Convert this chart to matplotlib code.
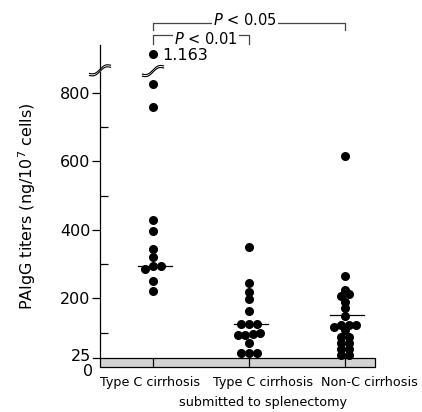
import matplotlib
matplotlib.use('Agg')
import matplotlib.pyplot as plt
from matplotlib.patches import Rectangle
import numpy as np

# PAIgG titers (ng/10^7 cells)
groups = ['Type C cirrhosis', 'Type C cirrhosis', 'Non-C cirrhosis']
sub_label = 'submitted to splenectomy'
typeC = [1163, 825, 758, 428, 398, 343, 320, 294, 294, 285, 252, 221]
typeC_splen = [351, 244, 219, 199, 164, 124, 124, 124, 98, 95, 93, 93, 70, 40, 40, 39]
nonC = [615, 266, 224, 212, 208, 190, 171, 148, 122, 122, 122, 116, 107, 88, 88, 69, 69, 51, 51, 34, 34]
medians = [294, 124, 150]
yticks = [200, 400, 600, 800]
minor_ticks = [100, 300, 500, 700]
pvals = ['$P$ < 0.01', '$P$ < 0.05']

BREAK_AT = 900     # values above this are drawn past the axis break
BREAK_POS = 915    # where they land on the axis
TOP = 940
BAND = 25


def disp(v):
	return BREAK_POS if v > BREAK_AT else v


# rows of near-equal values are centred, then nudged sideways if they hit dots above
def swarm(ax, xc, vals, d, tol=10):
	vals = sorted(vals, reverse=True)
	rows = []
	for v in vals:
		if rows and rows[-1][0] - v <= tol:
			rows[-1].append(v)
		else:
			rows.append([v])
	px0 = ax.transData.transform((xc, 0))[0]
	placed = []
	for row in rows:
		row = sorted(row)
		n = len(row)
		py = [ax.transData.transform((xc, v))[1] for v in row]
		for s in [0, 0.5, -0.5, 1, -1, 1.5, -1.5, 2, -2]:
			cand = [(px0 + (j - (n - 1) / 2.0 + s) * d, py[j]) for j in range(n)]
			hit = False
			for cx, cy in cand:
				for qx, qy in placed:
					if (cx - qx) ** 2 + (cy - qy) ** 2 < (0.7 * d) ** 2:
						hit = True
			if not hit:
				break
		placed += cand
	return ax.transData.inverted().transform(np.array(placed))


def break_mark(ax, xc, yc, w, h):
	t = np.linspace(-1, 1, 40)
	xs = xc + t * w / 2
	ys = yc + t * h / 2 + np.sin(t * np.pi) * h * 0.25
	gap = 3.0
	ax.fill_between(xs, ys - gap, ys + gap, color='white', zorder=4, clip_on=False, lw=0)
	ax.plot(xs, ys - gap, color='black', lw=0.8, zorder=5, clip_on=False)
	ax.plot(xs, ys + gap, color='black', lw=0.8, zorder=5, clip_on=False)


fig = plt.figure(figsize=(4.22, 4.12), dpi=100)
ax = fig.add_axes([100 / 422, 45.2 / 412, 275 / 422, 321.8 / 412])
x0, x1 = 1 - 53 / 96.0, 3 + 30 / 96.0
ax.set_xlim(x0, x1)
ax.set_ylim(0, TOP)
for s in ['top', 'right', 'bottom']:
	ax.spines[s].set_visible(False)
ax.spines['left'].set_bounds(BAND, TOP)
ax.spines['left'].set_linewidth(0.9)

ax.set_xticks([])
ax.set_yticks(yticks)
ax.set_yticklabels([str(v) for v in yticks], fontsize=11.5)
ax.set_yticks(minor_ticks, minor=True)
ax.tick_params(axis='y', which='major', direction='out', length=5.5, width=0.9, pad=1.5)
ax.tick_params(axis='y', which='minor', direction='in', length=5.5, width=0.9)

# grey band 0-25
ax.add_patch(Rectangle((x0, 0), x1 - x0, BAND, facecolor='#d3d3d3', edgecolor='black',
	lw=0.9, zorder=3, clip_on=False))
ax.plot([x0 - 0.075, x0], [BAND, BAND], color='black', lw=0.9, clip_on=False)
for i in range(3):
	ax.plot([i + 1, i + 1], [0, BAND], color='black', lw=0.9, zorder=4)
ax.text(x0 - 0.09, BAND + 6, '25', ha='right', va='center', fontsize=11.5)
ax.text(x0 - 0.075, -13, '0', ha='right', va='center', fontsize=11.5)

# dots
ms = 5.5
d = ms * fig.dpi / 72.0
for i, vals in enumerate([typeC, typeC_splen, nonC]):
	yv = [disp(v) for v in vals]
	xy = swarm(ax, i + 1, yv, d)
	ax.plot(xy[:, 0], xy[:, 1], 'o', color='black', ms=ms, zorder=6, clip_on=False)
	ax.plot([i + 1 - 0.16, i + 1 + 0.2], [medians[i], medians[i]], color='black', lw=0.9, zorder=5)

ax.text(1.095, disp(typeC[0]) - 6, '1.163', ha='left', va='center', fontsize=11.5)

# axis breaks
break_mark(ax, x0, 866, 0.22, 24)
break_mark(ax, 1.0, 864, 0.22, 24)

# x labels
lab_x = [0.974, 2.146, 3.257]
for i, g in enumerate(groups):
	ax.text(lab_x[i], -28, g, ha='center', va='top', fontsize=9.2)
ax.text(lab_x[1], -84, sub_label, ha='center', va='top', fontsize=9.2)

ax.set_ylabel('PAIgG titers (ng/10$^7$ cells)', fontsize=11.5, labelpad=16)

# significance brackets
brk = [(1, 2, 969, 943, pvals[0], 1.55, 958), (1, 3, 1003, 983, pvals[1], 1.96, 1012)]
for a, b, yl, yt, txt, tx, ty in brk:
	ax.text(tx, ty, txt, ha='center', va='center', fontsize=10.5,
		bbox=dict(facecolor='white', edgecolor='none', pad=0.8), zorder=3)
	ax.plot([a, a, b, b], [yt, yl, yl, yt], color='#444444', lw=0.9, clip_on=False, zorder=2)

fig.savefig('out.png', dpi=100)
